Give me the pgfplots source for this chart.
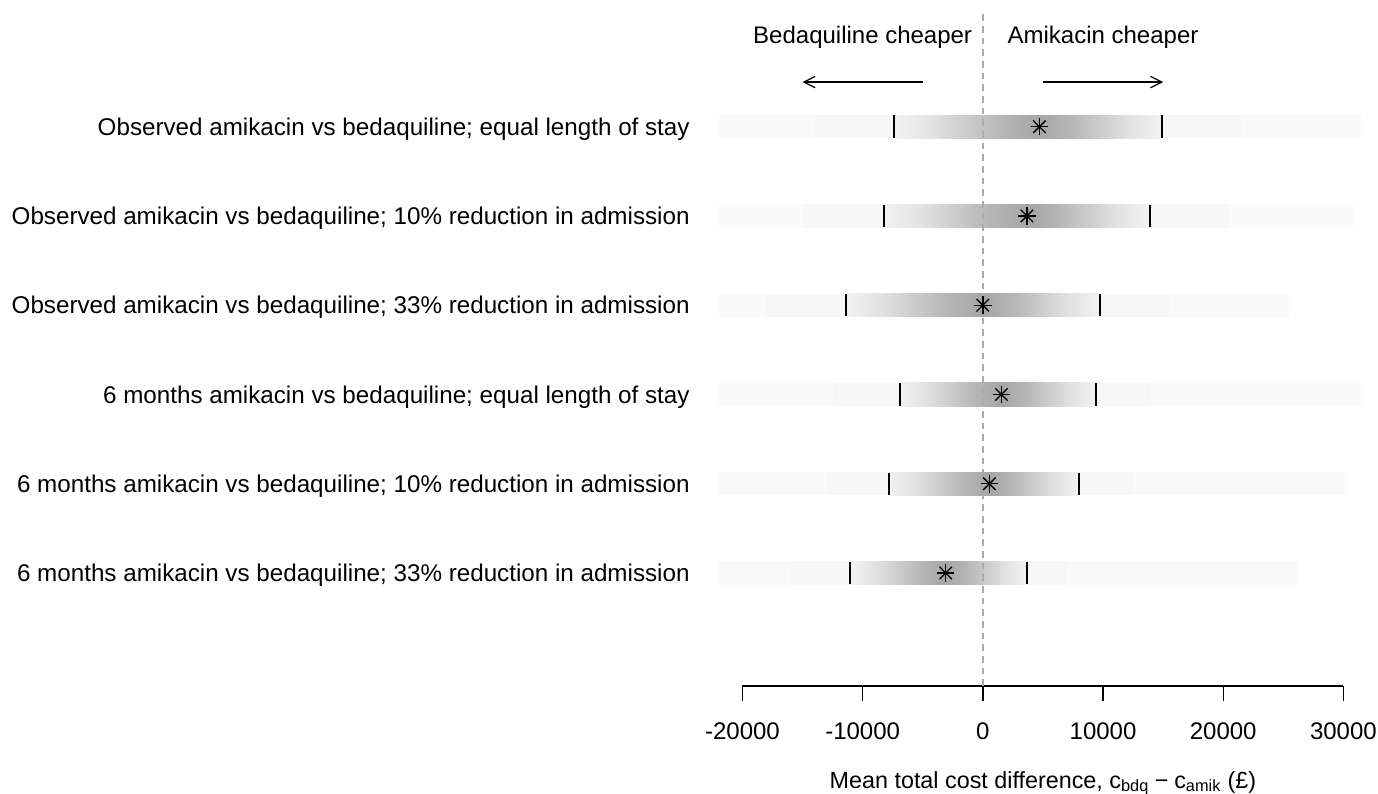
\documentclass[border=0pt]{standalone}
\usepackage{fontspec}
\setmainfont{Liberation Sans}
\usepackage{pgfplots}
\pgfplotsset{compat=1.18}
\usetikzlibrary{arrows.meta}
\pgfdeclarehorizontalshading{densL}{100bp}{color(0bp)=(black!5); color(25bp)=(black!5); color(37.5bp)=(black!11); color(50bp)=(black!20); color(62.5bp)=(black!29); color(75bp)=(black!35); color(100bp)=(black!35)}
\pgfdeclarehorizontalshading{densR}{100bp}{color(0bp)=(black!35); color(25bp)=(black!35); color(37.5bp)=(black!29); color(50bp)=(black!20); color(62.5bp)=(black!11); color(75bp)=(black!5); color(100bp)=(black!5)}
\begin{document}
\begin{tikzpicture}[font=\fontsize{18}{21.6}\selectfont]
\begin{axis}[
  at={(536.1pt,80.25pt)}, anchor=south west,
  scale only axis, width=492.2pt, height=505.5pt,
  xmin=-22300, xmax=32300, ymin=-0.266, ymax=7.285,
  clip=false,
  axis y line=none, axis x line*=bottom,
  x axis line style={draw=none},
  xtick={-20000,-10000,0,10000,20000,30000},
  xticklabels={,,,,,},
  scaled x ticks=false,
  ytick=\empty,
  tick align=outside, major tick length=11pt,
  tick style={black, line width=1pt},
]
% outer faint strips
\addplot[draw=none, fill=black!2] coordinates {(-22020,5.869) (31430,5.869) (31430,6.131) (-22020,6.131)} -- cycle;
\addplot[draw=none, fill=black!2] coordinates {(-22020,4.869) (30900,4.869) (30900,5.131) (-22020,5.131)} -- cycle;
\addplot[draw=none, fill=black!2] coordinates {(-22020,3.869) (25500,3.869) (25500,4.131) (-22020,4.131)} -- cycle;
\addplot[draw=none, fill=black!2] coordinates {(-22020,2.869) (31430,2.869) (31430,3.131) (-22020,3.131)} -- cycle;
\addplot[draw=none, fill=black!2] coordinates {(-22020,1.869) (30350,1.869) (30350,2.131) (-22020,2.131)} -- cycle;
\addplot[draw=none, fill=black!2] coordinates {(-22020,0.869) (26200,0.869) (26200,1.131) (-22020,1.131)} -- cycle;
% near faint strips
\addplot[draw=none, fill=black!3.2] coordinates {(-14000,5.869) (21500,5.869) (21500,6.131) (-14000,6.131)} -- cycle;
\addplot[draw=none, fill=black!3.2] coordinates {(-15000,4.869) (20500,4.869) (20500,5.131) (-15000,5.131)} -- cycle;
\addplot[draw=none, fill=black!3.2] coordinates {(-18000,3.869) (15500,3.869) (15500,4.131) (-18000,4.131)} -- cycle;
\addplot[draw=none, fill=black!3.2] coordinates {(-12500,2.869) (14000,2.869) (14000,3.131) (-12500,3.131)} -- cycle;
\addplot[draw=none, fill=black!3.2] coordinates {(-13000,1.869) (12500,1.869) (12500,2.131) (-13000,2.131)} -- cycle;
\addplot[draw=none, fill=black!3.2] coordinates {(-16000,0.869) (7000,0.869) (7000,1.131) (-16000,1.131)} -- cycle;
% density gradients: lower limit to mean
\addplot[draw=none, shading=densL] coordinates {(-7360,5.869) (4710,5.869) (4710,6.131) (-7360,6.131)} -- cycle;
\addplot[draw=none, shading=densL] coordinates {(-8260,4.869) (3670,4.869) (3670,5.131) (-8260,5.131)} -- cycle;
\addplot[draw=none, shading=densL] coordinates {(-11420,3.869) (0,3.869) (0,4.131) (-11420,4.131)} -- cycle;
\addplot[draw=none, shading=densL] coordinates {(-6930,2.869) (1550,2.869) (1550,3.131) (-6930,3.131)} -- cycle;
\addplot[draw=none, shading=densL] coordinates {(-7800,1.869) (540,1.869) (540,2.131) (-7800,2.131)} -- cycle;
\addplot[draw=none, shading=densL] coordinates {(-11060,0.869) (-3090,0.869) (-3090,1.131) (-11060,1.131)} -- cycle;
% density gradients: mean to upper limit
\addplot[draw=none, shading=densR] coordinates {(4700,5.869) (14870,5.869) (14870,6.131) (4700,6.131)} -- cycle;
\addplot[draw=none, shading=densR] coordinates {(3660,4.869) (13900,4.869) (13900,5.131) (3660,5.131)} -- cycle;
\addplot[draw=none, shading=densR] coordinates {(-10,3.869) (9730,3.869) (9730,4.131) (-10,4.131)} -- cycle;
\addplot[draw=none, shading=densR] coordinates {(1540,2.869) (9380,2.869) (9380,3.131) (1540,3.131)} -- cycle;
\addplot[draw=none, shading=densR] coordinates {(530,1.869) (7970,1.869) (7970,2.131) (530,2.131)} -- cycle;
\addplot[draw=none, shading=densR] coordinates {(-3100,0.869) (3670,0.869) (3670,1.131) (-3100,1.131)} -- cycle;
% x axis line
\addplot[black, line width=1pt] coordinates {(-20000,-0.266) (30000,-0.266)};
% zero reference line
\addplot[black!33, line width=1pt, dash pattern=on 5pt off 3.75pt] coordinates {(0,-0.266) (0,7.285)};
% interval limits
\addplot[only marks, mark=|, mark size=8.4pt, mark options={black, line width=1.5pt}] coordinates {
(-7360,6) (14870,6) (-8260,5) (13900,5) (-11420,4) (9730,4)
(-6930,3) (9380,3) (-7800,2) (7970,2) (-11060,1) (3670,1)};
% means
\addplot[only marks, mark=+, mark size=6.6pt, mark options={black, line width=1pt}] coordinates {
(4710,6) (3670,5) (0,4) (1550,3) (540,2) (-3090,1)};
\addplot[only marks, mark=x, mark size=6.6pt, mark options={black, line width=1pt}] coordinates {
(4710,6) (3670,5) (0,4) (1550,3) (540,2) (-3090,1)};
% direction arrows
\addplot[black, line width=0.9pt, -{Straight Barb[length=8.5pt,width=8.5pt]}] coordinates {(-5000,6.5) (-15000,6.5)};
\addplot[black, line width=0.9pt, -{Straight Barb[length=8.5pt,width=8.5pt]}] coordinates {(5000,6.5) (15000,6.5)};
\node[anchor=base] at (axis cs:-10000,6.927) {Bedaquiline cheaper};
\node[anchor=base] at (axis cs:10000,6.927) {Amikacin cheaper};
% row labels
\node[anchor=base east, yshift=-6.5pt, font=\fontsize{18.15}{21.8}\selectfont] at (axis cs:-24000,6) {Observed amikacin vs bedaquiline; equal length of stay};
\node[anchor=base east, yshift=-6.5pt, font=\fontsize{18.15}{21.8}\selectfont] at (axis cs:-24000,5) {Observed amikacin vs bedaquiline; 10\% reduction in admission};
\node[anchor=base east, yshift=-6.5pt, font=\fontsize{18.15}{21.8}\selectfont] at (axis cs:-24000,4) {Observed amikacin vs bedaquiline; 33\% reduction in admission};
\node[anchor=base east, yshift=-6.5pt, font=\fontsize{18.15}{21.8}\selectfont] at (axis cs:-24000,3) {6 months amikacin vs bedaquiline; equal length of stay};
\node[anchor=base east, yshift=-6.5pt, font=\fontsize{18.15}{21.8}\selectfont] at (axis cs:-24000,2) {6 months amikacin vs bedaquiline; 10\% reduction in admission};
\node[anchor=base east, yshift=-6.5pt, font=\fontsize{18.15}{21.8}\selectfont] at (axis cs:-24000,1) {6 months amikacin vs bedaquiline; 33\% reduction in admission};
% tick labels
\node[anchor=base] at (axis cs:-20000,-0.863) {-20000};
\node[anchor=base] at (axis cs:-10000,-0.863) {-10000};
\node[anchor=base] at (axis cs:0,-0.863) {0};
\node[anchor=base] at (axis cs:10000,-0.863) {10000};
\node[anchor=base] at (axis cs:20000,-0.863) {20000};
\node[anchor=base] at (axis cs:30000,-0.863) {30000};
% axis title
\node[anchor=base, font=\fontsize{17.5}{21}\selectfont] at (axis cs:5000,-1.409) {Mean total cost difference, c\textsubscript{bdq}\hspace{0.25em}\textminus\hspace{0.25em}c\textsubscript{amik} (£)};
\end{axis}
\pgfresetboundingbox
\path[use as bounding box] (0,0) rectangle (1033.5pt,594.75pt);
\end{tikzpicture}
\end{document}
